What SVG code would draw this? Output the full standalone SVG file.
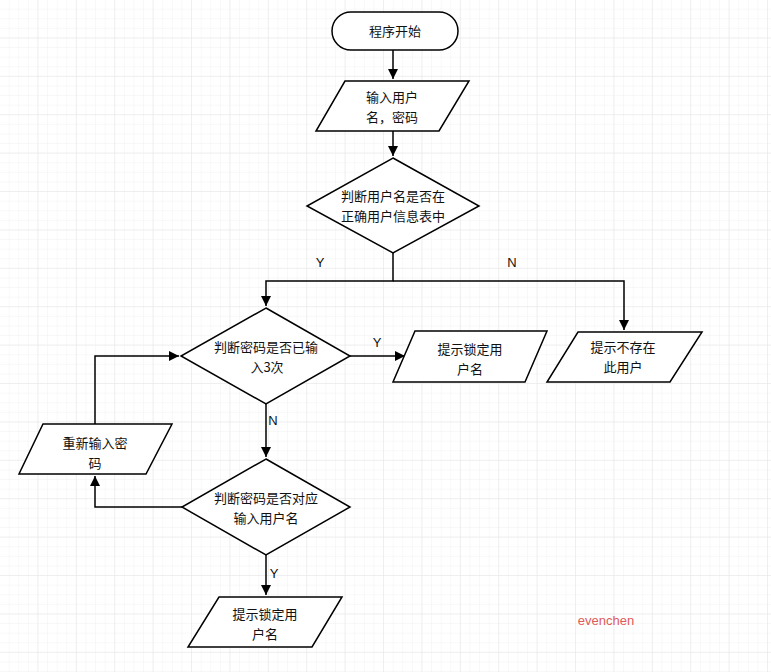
<svg xmlns="http://www.w3.org/2000/svg" width="771" height="672" viewBox="0 0 771 672">
<defs>
<pattern id="minor" width="9.6" height="9.6" patternUnits="userSpaceOnUse">
<path d="M9.6 0V9.6M0 9.6H9.6" fill="none" stroke="#f1f1f1" stroke-width="1"/>
</pattern>
<pattern id="major" width="38.4" height="38.4" patternUnits="userSpaceOnUse">
<path d="M38.4 0V38.4M0 38.4H38.4" fill="none" stroke="#e6e6e6" stroke-width="1"/>
</pattern>
<marker id="arr" markerWidth="12" markerHeight="12" refX="10" refY="5" orient="auto" markerUnits="userSpaceOnUse">
<path d="M0 0L10 5L0 10Z" fill="#000"/>
</marker>
<style>
.s{fill:#fff;stroke:#000;stroke-width:1.5}
.t{font-family:"Noto Sans CJK SC","Liberation Sans",sans-serif;font-size:13px;fill:#111;text-anchor:middle}
.l{font-family:"Liberation Sans",Arial,sans-serif;font-size:13px;fill:#111;text-anchor:middle}
.c{fill:none;stroke:#000;stroke-width:1.5}
</style>
</defs>
<rect width="771" height="672" fill="#fff"/>
<rect width="771" height="672" fill="url(#minor)"/>
<rect width="771" height="672" fill="url(#major)"/>

<g id="connectors">
<path class="c" d="M393 50V79" marker-end="url(#arr)"/>
<path class="c" d="M393 131V156" marker-end="url(#arr)"/>
<path class="c" d="M393 253V281H266V306" marker-end="url(#arr)"/>
<path class="c" d="M393 281H624V330" marker-end="url(#arr)"/>
<path class="c" d="M350 356H405" marker-end="url(#arr)"/>
<path class="c" d="M266 404V457" marker-end="url(#arr)"/>
<path class="c" d="M182 507H95V476" marker-end="url(#arr)"/>
<path class="c" d="M95 424V356H179" marker-end="url(#arr)"/>
<path class="c" d="M266 555V595" marker-end="url(#arr)"/>
<text class="l" x="320" y="267">Y</text>
<text class="l" x="512" y="267">N</text>
<text class="l" x="377" y="347">Y</text>
<text class="l" x="273" y="425">N</text>
<text class="l" x="274" y="578">Y</text>
</g>

<g id="start">
<rect class="s" x="332" y="12" width="126" height="38" rx="19"/>
<text class="t" x="395" y="36">程序开始</text>
</g>

<g id="input">
<polygon class="s" points="345,81 469,81 439,131 316,131"/>
<text class="t" x="392" y="102">输入用户</text>
<text class="t" x="392" y="122">名，密码</text>
</g>

<g id="check-user">
<polygon class="s" points="393,158 479,206 393,253 307,206"/>
<text class="t" x="393" y="201">判断用户名是否在</text>
<text class="t" x="393" y="221">正确用户信息表中</text>
</g>

<g id="check-count">
<polygon class="s" points="266,308 350,356 266,404 181,356"/>
<text class="t" x="266" y="352">判断密码是否已输</text>
<text class="t" x="267" y="372">入3次</text>
</g>

<g id="lock1">
<polygon class="s" points="415,331 547,331 525,382 393,382"/>
<text class="t" x="470" y="354">提示锁定用</text>
<text class="t" x="470" y="374">户名</text>
</g>

<g id="no-user">
<polygon class="s" points="578,332 702,332 670,382 547,382"/>
<text class="t" x="623" y="352">提示不存在</text>
<text class="t" x="623" y="372">此用户</text>
</g>

<g id="reinput">
<polygon class="s" points="43,424 172,424 146,474 19,474"/>
<text class="t" x="95" y="448">重新输入密</text>
<text class="t" x="95" y="468">码</text>
</g>

<g id="check-match">
<polygon class="s" points="266,459 350,507 266,555 182,507"/>
<text class="t" x="266" y="503">判断密码是否对应</text>
<text class="t" x="266" y="523">输入用户名</text>
</g>

<g id="lock2">
<polygon class="s" points="219,597 342,597 312,647 188,647"/>
<text class="t" x="265" y="619">提示锁定用</text>
<text class="t" x="265" y="639">户名</text>
</g>

<text x="606" y="625" font-family="Liberation Sans, Arial, sans-serif" font-size="13" fill="#e05a5a" text-anchor="middle">evenchen</text>
</svg>
